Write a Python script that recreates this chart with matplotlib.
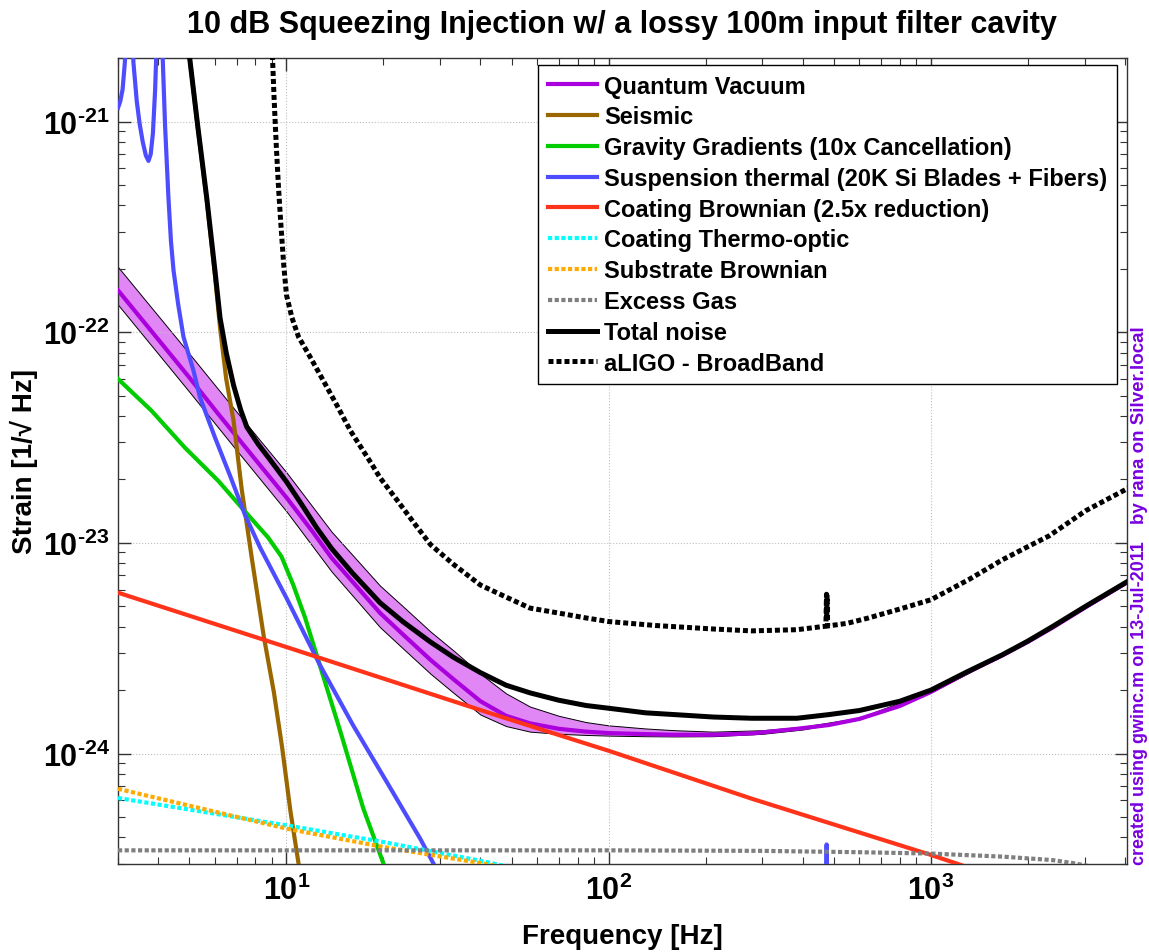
import numpy as np
import matplotlib
matplotlib.use("Agg")
import matplotlib.pyplot as plt
from matplotlib.ticker import LogLocator, FixedLocator, FuncFormatter, NullFormatter

plt.rcParams['font.family'] = ['Liberation Sans', 'DejaVu Sans']
plt.rcParams['font.weight'] = 'bold'
plt.rcParams['mathtext.fontset'] = 'custom'
plt.rcParams['mathtext.bf'] = 'Liberation Sans:bold'
plt.rcParams['mathtext.rm'] = 'Liberation Sans:bold'

# ---------------- data ----------------
qv_f = [3, 4, 5, 6.15, 8, 10, 12, 13.8, 16, 19.5, 23, 28, 33, 40, 48, 57, 70, 85, 100, 130, 160,
        211, 278, 384, 482, 600, 800, 1000, 1300, 1664, 2000, 2380, 3020, 4000, 4100]
qv_h = [1.58e-22, 9.23e-23, 6.08e-23, 4.08e-23, 2.49e-23, 1.64e-23, 1.14e-23, 8.49e-24, 6.56e-24,
        4.65e-24, 3.67e-24, 2.78e-24, 2.25e-24, 1.77e-24, 1.51e-24, 1.39e-24, 1.31e-24, 1.27e-24,
        1.25e-24, 1.236e-24, 1.227e-24, 1.227e-24, 1.245e-24, 1.31e-24, 1.365e-24, 1.46e-24,
        1.68e-24, 1.96e-24, 2.43e-24, 2.92e-24, 3.39e-24, 3.95e-24, 4.95e-24, 6.4e-24, 6.55e-24]

band_f = [3, 5, 7, 10, 13.8, 19.5, 23, 28, 33, 40, 48, 57, 70, 85, 100, 130, 160, 211, 300, 400,
          600, 1000, 2000, 4000, 4100]
band_hi = [2.04e-22, 7.89e-23, 4.19e-23, 2.16e-23, 1.13e-23, 6.27e-24, 4.99e-24, 3.79e-24, 3.08e-24,
           2.39e-24, 1.93e-24, 1.67e-24, 1.51e-24, 1.41e-24, 1.36e-24, 1.315e-24, 1.29e-24, 1.27e-24,
           1.29e-24, 1.34e-24, 1.48e-24, 1.98e-24, 3.41e-24, 6.44e-24, 6.6e-24]
band_lo = [1.35e-22, 5.2e-23, 2.75e-23, 1.41e-23, 7.31e-24, 3.98e-24, 3.15e-24, 2.39e-24, 1.94e-24,
           1.53e-24, 1.35e-24, 1.27e-24, 1.24e-24, 1.225e-24, 1.216e-24, 1.208e-24, 1.205e-24,
           1.208e-24, 1.24e-24, 1.30e-24, 1.45e-24, 1.95e-24, 3.37e-24, 6.35e-24, 6.5e-24]

seis_f = [4.5, 4.97, 5.3, 5.66, 6.0, 6.22, 6.5, 6.85, 7.26, 7.8, 8.5, 9.14, 9.7, 10.29, 10.9, 12]
seis_h = [1.3e-20, 2.2e-21, 9.5e-22, 4.2e-22, 1.85e-22, 1.05e-22, 6.0e-23, 3.8e-23, 1.8e-23,
          8.5e-24, 3.6e-24, 1.95e-24, 1.06e-24, 5.3e-25, 3.0e-25, 1.1e-25]

gg_f = [3, 3.81, 4.84, 6.14, 7.43, 8.77, 9.65, 10.5, 11.4, 12.4, 14.7, 17.3, 20, 23]
gg_h = [6.0e-23, 4.24e-23, 2.83e-23, 1.97e-23, 1.41e-23, 1.06e-23, 8.6e-24, 6.3e-24, 4.45e-24,
        2.94e-24, 1.27e-24, 5.5e-25, 3.0e-25, 1.6e-25]

susp_f = [3.0, 3.05, 3.1, 3.15, 3.2, 3.25, 3.3, 3.35, 3.43, 3.5, 3.58, 3.66, 3.73, 3.79, 3.85,
          3.91, 3.96, 4.0, 4.03, 4.07, 4.12, 4.2, 4.3, 4.38, 4.46, 4.61, 4.79, 5.14, 5.39, 6.0,
          6.7, 7.43, 8.28, 10, 12.7, 16.1, 20.5, 26, 28.6, 32, 100, 473, 474.5, 476, 4100]
susp_h = [1.16e-21, 1.25e-21, 1.42e-21, 1.9e-21, 3.5e-21, 2e-20, 3.5e-21, 1.9e-21, 1.25e-21,
          9.8e-22, 8.0e-22, 6.9e-22, 6.5e-22, 7.0e-22, 8.8e-22, 1.4e-21, 2.5e-21, 8e-21, 2e-20,
          6e-21, 2.2e-21, 9.5e-22, 4.4e-22, 2.7e-22, 1.97e-22, 1.36e-22, 9.5e-23, 6.6e-23, 4.9e-23,
          3.16e-23, 2.06e-23, 1.36e-23, 9.5e-24, 5.47e-24, 2.63e-24, 1.36e-24, 7.3e-25, 3.94e-25,
          3.0e-25, 1.8e-25, 1e-26, 2e-27, 3.7e-25, 2e-27, 1e-27]

cb_f = [3, 10, 46, 100, 278, 1000, 4100]
cb_h = [5.8e-24, 3.2e-24, 1.5e-24, 1.03e-24, 6.1e-25, 3.3e-25, 1.6e-25]

cto_f = [3, 10, 20, 42, 60]
cto_h = [6.15e-25, 4.56e-25, 3.8e-25, 3.05e-25, 2.7e-25]

sb_f = [3, 10, 20, 41, 60]
sb_h = [6.8e-25, 4.4e-25, 3.6e-25, 3.0e-25, 2.7e-25]

gas_f = [3, 100, 300, 600, 1000, 1664, 2380, 2750, 4100]
gas_h = [3.47e-25, 3.47e-25, 3.45e-25, 3.4e-25, 3.35e-25, 3.24e-25, 3.12e-25, 3.02e-25, 2.7e-25]

tot_f = [4.5, 4.97, 5.3, 5.66, 6.0, 6.22, 6.5, 6.85, 7.2, 7.53, 8.17, 8.79, 10, 11.15, 12.4, 13.8,
         16, 19.5, 23, 28, 33, 40, 48, 57, 70, 85, 100, 130, 160, 211, 278, 384, 482, 600, 800,
         1000, 1300, 1664, 2000, 2380, 3020, 4000, 4100]
tot_h = [1.3e-20, 2.2e-21, 9.6e-22, 4.3e-22, 1.95e-22, 1.17e-22, 8.0e-23, 5.6e-23, 4.3e-23,
         3.55e-23, 2.94e-23, 2.54e-23, 1.95e-23, 1.52e-23, 1.18e-23, 9.4e-24, 7.2e-24, 5.2e-24,
         4.22e-24, 3.38e-24, 2.86e-24, 2.42e-24, 2.11e-24, 1.94e-24, 1.79e-24, 1.69e-24, 1.64e-24,
         1.56e-24, 1.53e-24, 1.49e-24, 1.47e-24, 1.47e-24, 1.53e-24, 1.6e-24, 1.77e-24, 2.0e-24,
         2.45e-24, 2.94e-24, 3.42e-24, 4.0e-24, 5.0e-24, 6.45e-24, 6.6e-24]

al_f = [8.9, 9.0, 9.05, 9.15, 9.3, 9.45, 9.6, 9.8, 10.0, 10.4, 10.9, 11.8, 13.0, 14.3, 15.8, 18.4,
        19.5, 22, 25, 28, 33, 40, 48, 57, 70, 85, 100, 140, 211, 277, 384, 458, 472, 474, 475, 476,
        478, 550, 640, 800, 1000, 1312, 1664, 2000, 2328, 3020, 3935, 4100]
al_h = [5e-21, 2.6e-21, 2.0e-21, 1.3e-21, 7.6e-22, 4.8e-22, 3.3e-22, 2.1e-22, 1.5e-22, 1.17e-22,
        9.5e-23, 7.7e-23, 5.9e-23, 4.53e-23, 3.4e-23, 2.36e-23, 2.04e-23, 1.6e-23, 1.23e-23,
        9.8e-24, 7.9e-24, 6.3e-24, 5.53e-24, 4.9e-24, 4.64e-24, 4.4e-24, 4.23e-24, 4.05e-24, 3.9e-24,
        3.82e-24, 3.87e-24, 4.0e-24, 4.02e-24, 5.7e-24, 4.5e-24, 5.6e-24, 4.03e-24, 4.15e-24, 4.4e-24,
        4.85e-24, 5.37e-24, 6.7e-24, 8.3e-24, 9.6e-24, 1.08e-23, 1.42e-23, 1.76e-23, 1.82e-23]

x_major = [10, 100, 1000]
y_major = [1e-24, 1e-23, 1e-22, 1e-21]

labels = ["Quantum Vacuum", "Seismic", "Gravity Gradients (10x Cancellation)",
          "Suspension thermal (20K Si Blades + Fibers)", "Coating Brownian (2.5x reduction)",
          "Coating Thermo-optic", "Substrate Brownian", "Excess Gas", "Total noise",
          "aLIGO - BroadBand"]

title = "10 dB Squeezing Injection w/ a lossy 100m input filter cavity"

# ---------------- figure ----------------
fig = plt.figure(figsize=(11.49, 9.53), dpi=100)
ax = fig.add_axes([0.1027, 0.0927, 0.8779, 0.8453])

dot = (0, (1, 0.6))
ax.fill_between(band_f, band_lo, band_hi, facecolor='#e086f5', edgecolor='black', linewidth=0.7, zorder=1)
ax.plot(qv_f, qv_h, color='#aa00dd', lw=3.0, label=labels[0], zorder=3)
ax.plot(seis_f, seis_h, color='#996600', lw=3.0, label=labels[1], zorder=3)
ax.plot(gg_f, gg_h, color='#00cc00', lw=3.0, label=labels[2], zorder=3)
ax.plot(susp_f, susp_h, color='#4d4dff', lw=3.0, label=labels[3], zorder=3)
ax.plot(cb_f, cb_h, color='#ff3319', lw=3.0, label=labels[4], zorder=3)
ax.plot(cto_f, cto_h, color='#00ffff', lw=3.0, ls=dot, label=labels[5], zorder=3)
ax.plot(sb_f, sb_h, color='#ffaa00', lw=3.0, ls=dot, label=labels[6], zorder=3)
ax.plot(gas_f, gas_h, color='#7f7f7f', lw=3.0, ls=dot, label=labels[7], zorder=3)
ax.plot(tot_f, tot_h, color='black', lw=3.6, label=labels[8], zorder=4)
ax.plot(al_f, al_h, color='black', lw=3.6, ls=dot, label=labels[9], zorder=4)

ax.set_xscale('log')
ax.set_yscale('log')
ax.set_xlim(3, 4050)
ax.set_ylim(3e-25, 2e-21)


def tick_fmt(v, p):
    e = int(round(np.log10(v)))
    s = str(e).replace('-', '\u2010')
    return r'$\mathbf{10^{%s}}$' % s


fmt = FuncFormatter(tick_fmt)
ax.xaxis.set_major_locator(FixedLocator(x_major))
ax.yaxis.set_major_locator(FixedLocator(y_major))
ax.xaxis.set_minor_locator(LogLocator(base=10, subs=np.arange(2, 10), numticks=20))
ax.yaxis.set_minor_locator(LogLocator(base=10, subs=np.arange(2, 10), numticks=20))
ax.xaxis.set_major_formatter(fmt)
ax.yaxis.set_major_formatter(fmt)
ax.xaxis.set_minor_formatter(NullFormatter())
ax.yaxis.set_minor_formatter(NullFormatter())
ax.tick_params(which='both', direction='in', top=True, right=True, color='#333333')
ax.tick_params(which='major', length=9, width=1.0, labelsize=22)
ax.tick_params(axis='y', which='major', pad=6)
ax.tick_params(axis='x', which='major', pad=8)
ax.tick_params(which='minor', length=5, width=0.8)
ax.grid(which='major', ls=':', color='#c0c0c0', lw=0.8)
for s in ax.spines.values():
    s.set_color('#333333')
    s.set_linewidth(1.0)

ax.set_xlabel("Frequency [Hz]", fontsize=20, fontweight='bold', labelpad=12)
ax.set_ylabel("Strain [1/\u221a Hz]", fontsize=20, fontweight='bold', labelpad=3)
ax.set_title(title, fontsize=22, fontweight='bold', pad=19)

leg = ax.legend(loc='upper right', bbox_to_anchor=(0.9904, 0.9913), borderaxespad=0,
                fancybox=False, framealpha=1, edgecolor='black', fontsize=17,
                handlelength=2.1, handletextpad=0.3, labelspacing=0.33, borderpad=0.4)
leg.get_frame().set_linewidth(1.0)
for t in leg.get_texts():
    t.set_fontweight('bold')

fig.text(0.992, 0.554, "by rana on Silver.local", rotation=90, ha='center', va='center',
         fontsize=13.5, fontweight='bold', color='#7a00e0')
fig.text(0.992, 0.0927, "created using gwinc.m on 13-Jul-2011", rotation=90, ha='center', va='bottom',
         fontsize=13, fontweight='bold', color='#7a00e0')

fig.savefig("out.png", dpi=100)
